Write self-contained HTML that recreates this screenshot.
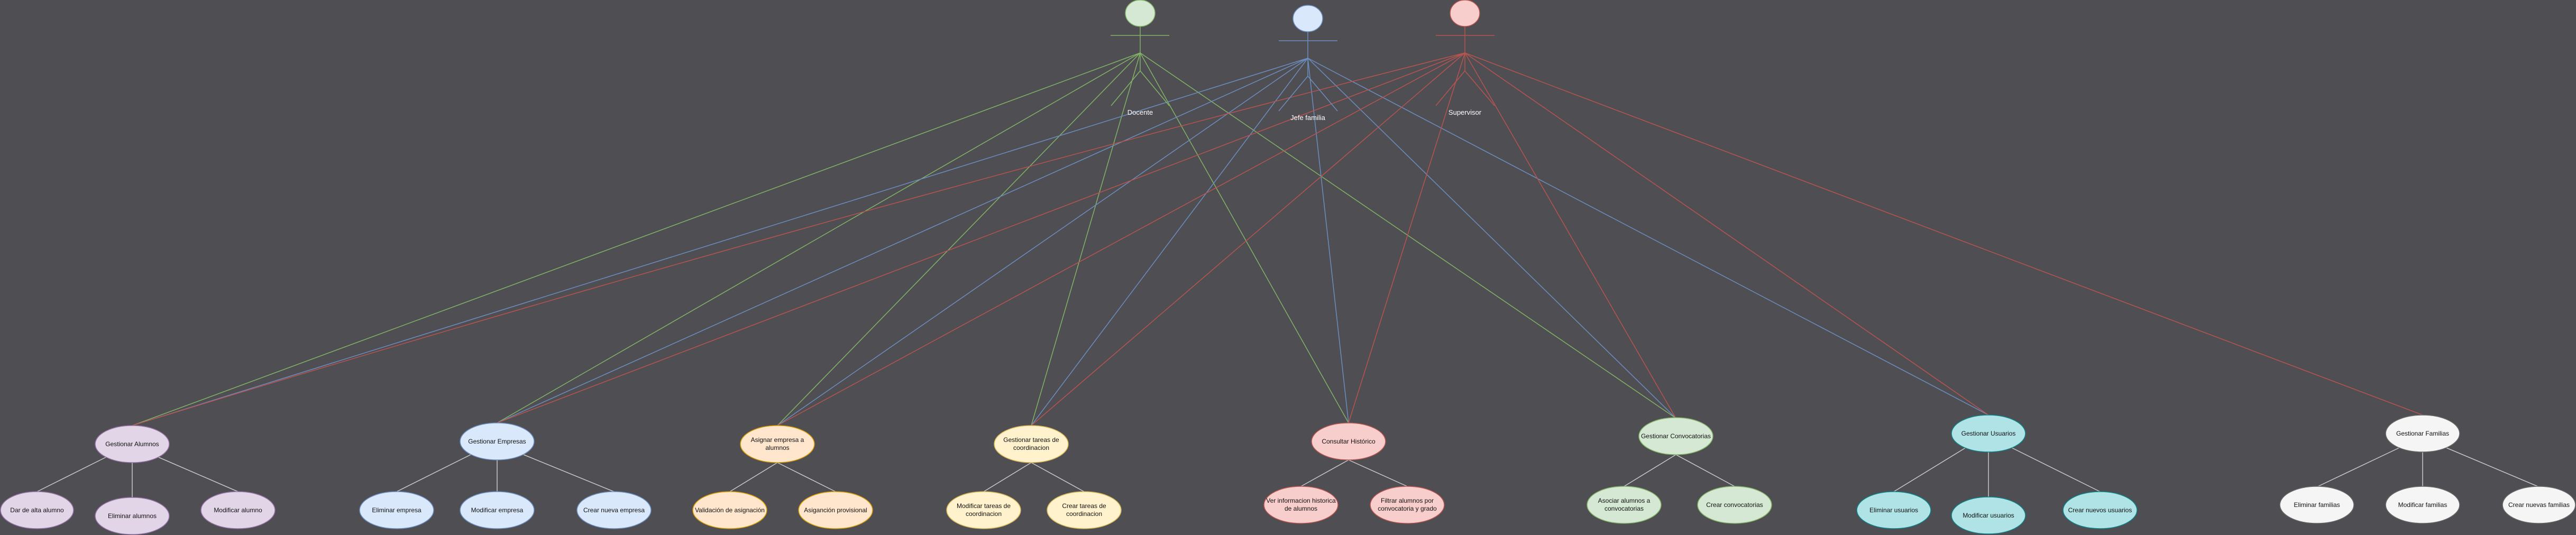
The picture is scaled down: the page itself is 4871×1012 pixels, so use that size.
<!DOCTYPE html>
<html><head><meta charset="utf-8"><style>
html,body{margin:0;padding:0;background:#4f4e53;}
svg{display:block}
text{font-family:"Liberation Sans",sans-serif;font-size:12px;fill:#111;text-anchor:middle}
.al{fill:#fff;font-size:13px}
</style></head><body>
<svg width="4871" height="1012" viewBox="0 0 4871 1012" xmlns="http://www.w3.org/2000/svg">
<g stroke-width="1.5" fill="none">
<!-- Docente green -->
<g stroke="#82b366">
<line x1="2156" y1="100" x2="250" y2="805"/>
<line x1="2156" y1="100" x2="940" y2="800"/>
<line x1="2156" y1="100" x2="1470" y2="805"/>
<line x1="2156" y1="100" x2="1950" y2="805"/>
<line x1="2156" y1="100" x2="2550" y2="800"/>
<line x1="2156" y1="100" x2="3169" y2="791"/>
</g>
<g stroke="#6c8ebf">
<line x1="2473" y1="110" x2="250" y2="805"/>
<line x1="2473" y1="110" x2="940" y2="800"/>
<line x1="2473" y1="110" x2="1470" y2="805"/>
<line x1="2473" y1="110" x2="1950" y2="805"/>
<line x1="2473" y1="110" x2="2550" y2="800"/>
<line x1="2473" y1="110" x2="3169" y2="791"/>
<line x1="2473" y1="110" x2="3760" y2="785"/>
</g>
<g stroke="#b85450">
<path d="M2770 100 Q1500 420 250 805"/>
<line x1="2770" y1="100" x2="940" y2="800"/>
<line x1="2770" y1="100" x2="1470" y2="805"/>
<line x1="2770" y1="100" x2="1950" y2="805"/>
<line x1="2770" y1="100" x2="2550" y2="800"/>
<line x1="2770" y1="100" x2="3169" y2="791"/>
<line x1="2770" y1="100" x2="3760" y2="785"/>
<line x1="2770" y1="100" x2="4581" y2="785"/>
</g>
<!-- child connectors -->
<g stroke="#c8c8c8">
<line x1="200" y1="865" x2="70" y2="930"/><line x1="250" y1="875" x2="250" y2="941"/><line x1="300" y1="865" x2="450" y2="930"/>
<line x1="890" y1="860" x2="750" y2="930"/><line x1="940" y1="870" x2="940" y2="930"/><line x1="990" y1="860" x2="1161" y2="930"/>
<line x1="1470" y1="875" x2="1380" y2="930"/><line x1="1470" y1="875" x2="1580" y2="930"/>
<line x1="1950" y1="875" x2="1860" y2="930"/><line x1="1950" y1="875" x2="2050" y2="930"/>
<line x1="2550" y1="870" x2="2460" y2="920"/><line x1="2550" y1="870" x2="2661" y2="920"/>
<line x1="3169" y1="860" x2="3071" y2="920"/><line x1="3169" y1="860" x2="3280" y2="920"/>
<line x1="3720" y1="845" x2="3581" y2="930"/><line x1="3760" y1="855" x2="3760" y2="941"/><line x1="3800" y1="845" x2="3971" y2="930"/>
<line x1="4541" y1="845" x2="4381" y2="921"/><line x1="4581" y1="855" x2="4581" y2="921"/><line x1="4621" y1="845" x2="4801" y2="921"/>
</g>
<!-- actors -->
<g stroke="#82b366"><ellipse cx="2156" cy="25" rx="28" ry="25" fill="#d5e8d4"/><line x1="2156" y1="50" x2="2156" y2="134"/><line x1="2100" y1="67" x2="2211" y2="67"/><line x1="2156" y1="134" x2="2101" y2="200"/><line x1="2156" y1="134" x2="2211" y2="200"/></g>
<g stroke="#6c8ebf"><ellipse cx="2473" cy="35" rx="28" ry="25" fill="#dae8fc"/><line x1="2473" y1="60" x2="2473" y2="144"/><line x1="2418" y1="77" x2="2529" y2="77"/><line x1="2473" y1="144" x2="2418" y2="210"/><line x1="2473" y1="144" x2="2529" y2="210"/></g>
<g stroke="#b85450"><ellipse cx="2770" cy="25" rx="28" ry="25" fill="#f8cecc"/><line x1="2770" y1="50" x2="2770" y2="134"/><line x1="2715" y1="67" x2="2826" y2="67"/><line x1="2770" y1="134" x2="2715" y2="200"/><line x1="2770" y1="134" x2="2826" y2="200"/></g>
<!-- use cases -->
<g stroke="#9673a6" fill="#e1d5e7"><ellipse cx="250" cy="840" rx="70" ry="35"/><ellipse cx="70" cy="965" rx="69" ry="35"/><ellipse cx="250" cy="976" rx="70" ry="35"/><ellipse cx="450" cy="965" rx="70" ry="35"/></g>
<g stroke="#6c8ebf" fill="#dae8fc"><ellipse cx="940" cy="835" rx="70" ry="35"/><ellipse cx="750" cy="965" rx="70" ry="35"/><ellipse cx="940" cy="965" rx="70" ry="35"/><ellipse cx="1161" cy="965" rx="70" ry="35"/></g>
<g stroke="#d79b00" fill="#ffe6cc"><ellipse cx="1470" cy="840" rx="70" ry="35"/><ellipse cx="1380" cy="965" rx="70" ry="35"/><ellipse cx="1580" cy="965" rx="70" ry="35"/></g>
<g stroke="#d6b656" fill="#fff2cc"><ellipse cx="1950" cy="840" rx="70" ry="35"/><ellipse cx="1860" cy="965" rx="70" ry="35"/><ellipse cx="2050" cy="965" rx="70" ry="35"/></g>
<g stroke="#b85450" fill="#f8cecc"><ellipse cx="2550" cy="835" rx="70" ry="35"/><ellipse cx="2460" cy="955" rx="70" ry="35"/><ellipse cx="2661" cy="955" rx="70" ry="35"/></g>
<g stroke="#82b366" fill="#d5e8d4"><ellipse cx="3169" cy="825" rx="70" ry="35"/><ellipse cx="3071" cy="955" rx="70" ry="35"/><ellipse cx="3280" cy="955" rx="70" ry="35"/></g>
<g stroke="#0e8088" fill="#b0e3e6"><ellipse cx="3760" cy="820" rx="70" ry="35"/><ellipse cx="3581" cy="965" rx="70" ry="35"/><ellipse cx="3760" cy="975" rx="70" ry="35"/><ellipse cx="3971" cy="965" rx="70" ry="35"/></g>
<g stroke="#666" fill="#f5f5f5"><ellipse cx="4581" cy="820" rx="70" ry="35"/><ellipse cx="4381" cy="955" rx="70" ry="35"/><ellipse cx="4581" cy="955" rx="70" ry="35"/><ellipse cx="4801" cy="955" rx="69" ry="35"/></g>
</g>
<text class="al" x="2156" y="217">Docente</text>
<text class="al" x="2473" y="227">Jefe familia</text>
<text class="al" x="2770" y="217">Supervisor</text>
<text x="250" y="844">Gestionar Alumnos</text>
<text x="70" y="969">Dar de alta alumno</text>
<text x="250" y="980">Eliminar alumnos</text>
<text x="450" y="969">Modificar alumno</text>
<text x="940" y="839">Gestionar Empresas</text>
<text x="750" y="969">Eliminar empresa</text>
<text x="940" y="969">Modificar empresa</text>
<text x="1161" y="969">Crear nueva empresa</text>
<text x="1470" y="836">Asignar empresa a</text><text x="1470" y="851">alumnos</text>
<text x="1380" y="969">Validación de asignación</text>
<text x="1580" y="969">Asiganción provisional</text>
<text x="1950" y="836">Gestionar tareas de</text><text x="1950" y="851">coordinacion</text>
<text x="1860" y="961">Modificar tareas de</text><text x="1860" y="976">coordinacion</text>
<text x="2050" y="961">Crear tareas de</text><text x="2050" y="976">coordinacion</text>
<text x="2550" y="839">Consultar Histórico</text>
<text x="2460" y="951">Ver informacion historica</text><text x="2460" y="966">de alumnos</text>
<text x="2661" y="951">Filtrar alumnos por</text><text x="2661" y="966">convocatoria y grado</text>
<text x="3169" y="829">Gestionar Convocatorias</text>
<text x="3071" y="951">Asociar alumnos a</text><text x="3071" y="966">convocatorias</text>
<text x="3280" y="959">Crear convocatorias</text>
<text x="3760" y="824">Gestionar Usuarios</text>
<text x="3581" y="969">Eliminar usuarios</text>
<text x="3760" y="979">Modificar usuarios</text>
<text x="3971" y="969">Crear nuevos usuarios</text>
<text x="4581" y="824">Gestionar Familias</text>
<text x="4381" y="959">Eliminar familias</text>
<text x="4581" y="959">Modificar familias</text>
<text x="4801" y="959">Crear nuevas familias</text>
</svg>
</body></html>
